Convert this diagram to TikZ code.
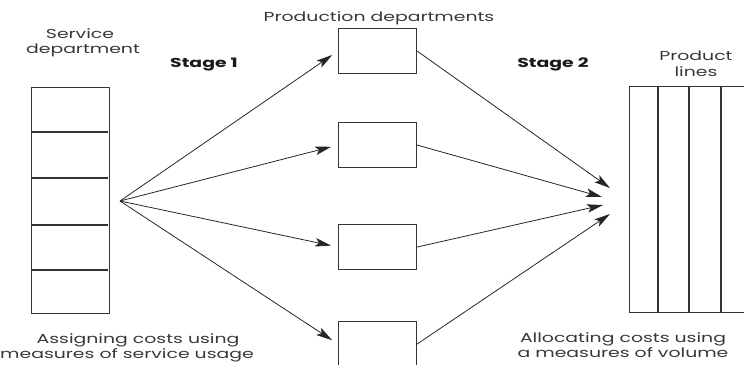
\documentclass[tikz,border=0pt]{standalone}
\usepackage{fontspec}
\setmainfont{Poppins}[FakeStretch=1.45]
\usetikzlibrary{arrows.meta}
\begin{document}
\begin{tikzpicture}[x=1pt,y=-1pt,
  box/.style={draw=black!80,line width=1.1pt,minimum width=78pt,minimum height=45pt,inner sep=0pt},
  flow/.style={draw=black!85,line width=0.8pt,-{Stealth[length=16pt,width=8.5pt,inset=3.5pt]}},
  lbl/.style={font=\fontsize{13}{15}\selectfont,text=black!78,inner sep=0pt,align=center},
  stage/.style={font=\fontsize{13}{15}\selectfont\bfseries,text=black!90,inner sep=0pt}]
\useasboundingbox (0,0) rectangle (744,364);
\clip (0,0) rectangle (744,364);

% service department column
\node[box,minimum height=226pt,anchor=north west] (svc) at (31,87) {};
\foreach \yy in {132,178,225,270} \draw[black!80,line width=1.1pt] (31,\yy) -- (108,\yy);
\coordinate (src) at (120,201);

% production departments
\node[box,anchor=north west] (p1) at (338,28) {};
\node[box,anchor=north west] (p2) at (338,122) {};
\node[box,anchor=north west] (p3) at (338,224) {};
\node[box,anchor=north west] (p4) at (338,321) {};

% product lines
\node[box,minimum width=135pt,minimum height=226pt,anchor=north west] (pl) at (629,86) {};
\foreach \xx in {658,689,721} \draw[black!80,line width=1.1pt] (\xx,86) -- (\xx,312);

% stage 1 arrows
\foreach \p in {p1,p2,p3,p4} \draw[flow,shorten >=7pt] (src) -- (\p.west);

% stage 2 arrows
\coordinate (t1) at (610,188);
\coordinate (t2) at (602,197);
\coordinate (t3) at (603,205);
\coordinate (t4) at (610,214);
\draw[flow] (p1.east) -- (t1);
\draw[flow] (p2.east) -- (t2);
\draw[flow] (p3.east) -- (t3);
\draw[flow] (p4.east) -- (t4);

% labels
\node[lbl,anchor=base] (tprod) at (379,21) {Production departments};
\node[lbl,anchor=base] (tsvc1) at (80,38) {Service};
\node[lbl,anchor=base] (tsvc2) at (83,53) {department};
\node[stage,anchor=base] (s1) at (204,67) {Stage 1};
\node[stage,anchor=base] (s2) at (553,67) {Stage 2};
\node[lbl,anchor=base] (tpl1) at (696,60) {Product};
\node[lbl,anchor=base] (tpl2) at (696,76) {lines};
\node[lbl,anchor=base] (tas1) at (138,343) {Assigning costs using};
\node[lbl,anchor=base] (tas2) at (127,358) {measures of service usage};
\node[lbl,anchor=base] (tal1) at (623,342) {Allocating costs using};
\node[lbl,anchor=base] (tal2) at (623,357) {a measures of volume};
\end{tikzpicture}
\end{document}
